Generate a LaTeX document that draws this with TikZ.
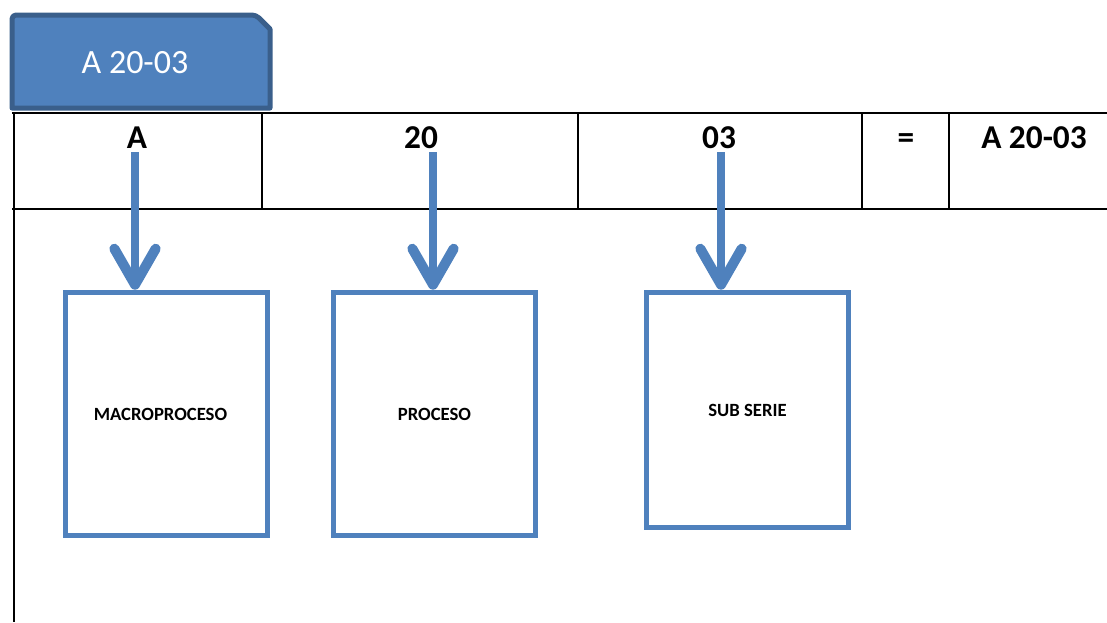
\documentclass[tikz,border=0pt]{standalone}
\usepackage{fontspec}
\setmainfont{Carlito}
\usetikzlibrary{arrows.meta,calc}
\definecolor{ofblue}{HTML}{4F81BD}
\definecolor{ofdark}{HTML}{3A5F8B}
\tikzset{
  tabshape/.style={fill=ofblue,draw=ofdark,line width=3.75pt,line join=round},
  grid/.style={draw=black,line width=1.6pt},
  head/.style={font=\fontsize{25}{25}\selectfont\bfseries,anchor=base,inner sep=0pt},
  tabtext/.style={font=\fontsize{25.5}{25.5}\selectfont,text=white,anchor=base,inner sep=0pt},
  cellbox/.style={draw=ofblue,line width=4.2pt,minimum width=151.5pt,inner sep=0pt,
    font=\fontsize{14}{14}\selectfont\bfseries},
  downarrow/.style={draw=ofblue,line width=6pt,-{Straight Barb[length=27pt,width=31pt,line width=7.5pt,round]}}
}
\begin{document}
\begin{tikzpicture}[x=0.75pt,y=-0.75pt]
\useasboundingbox (0,0) rectangle (1107,622);
% tab
\draw[tabshape] (12,108) -- (12,20) [rounded corners=3pt]-- (12,15) -- (256,15) [sharp corners]-- (270,29) -- (270,108) -- cycle;
\node[tabtext] (tab) at (135,73) {A 20-03};
% table grid
\draw[grid] (12,113) -- (1107,113);
\draw[grid] (12,209) -- (1107,209);
\draw[grid] (14,113) -- (14,622);
\draw[grid] (262,113) -- (262,209);
\draw[grid] (578,113) -- (578,209);
\draw[grid] (862,113) -- (862,209);
\draw[grid] (949,113) -- (949,209);
% headers
\node[head] (hA) at (137,148) {A};
\node[head] (h20) at (421,148) {20};
\node[head] (h03) at (719,148) {03};
\node[head] (heq) at (906,148) {=};
\node[head] (hres) at (1034,148) {A 20-03};
% boxes
\node[cellbox,minimum height=182.25pt] (b1) at (166.5,414) {\hspace*{-9pt}MACROPROCESO};
\node[cellbox,minimum height=182.25pt] (b2) at (434.5,414) {PROCESO};
\node[cellbox,minimum height=176.25pt] (b3) at (747.5,410) {SUB SERIE};
% arrows
\coordinate (s1) at (135,152);
\coordinate (s2) at (433,152);
\coordinate (s3) at (721,152);
\draw[downarrow] (s1) -- (s1 |- b1.north);
\draw[downarrow] (s2) -- (s2 |- b2.north);
\draw[downarrow] (s3) -- (s3 |- b3.north);
\end{tikzpicture}
\end{document}
